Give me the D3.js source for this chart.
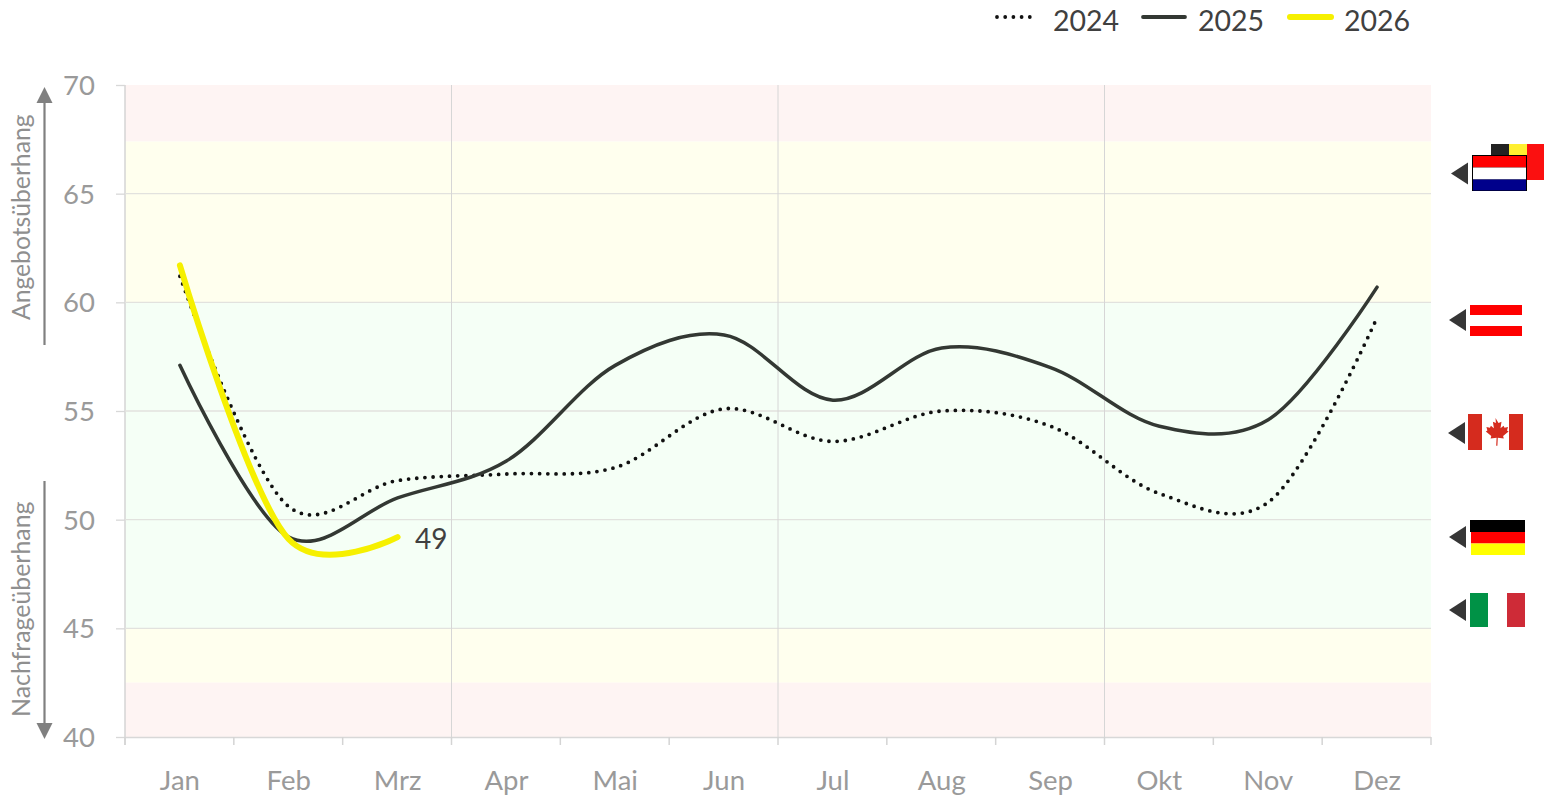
<!DOCTYPE html>
<html><head><meta charset="utf-8">
<script src="https://cdn.jsdelivr.net/npm/d3@7"></script>
<style>html,body{margin:0;padding:0;background:#fff}svg{display:block}text{font-family:Lato,"Open Sans",sans-serif}</style>
</head><body><svg id="c" width="1544" height="797"></svg>
<script>
const months=["Jan","Feb","Mrz","Apr","Mai","Jun","Jul","Aug","Sep","Okt","Nov","Dez"];
const s2024=[61.2,50.6,51.8,52.1,52.4,55.1,53.6,55.0,54.3,51.2,50.8,59.3];
const s2025=[57.1,49.2,51.0,52.7,57.1,58.5,55.5,57.9,57.0,54.3,54.6,60.7];
const s2026=[61.7,49.1,49.2];
const yTicks=[40,45,50,55,60,65,70];
const bands=[[67.4,70,"#fef4f3"],[60,67.4,"#ffffee"],[45,60,"#f5fff6"],[42.5,45,"#ffffee"],[40,42.5,"#fef4f3"]];

const svg=d3.select("#c");
const x=d3.scaleBand().domain(months).range([125,1431]);
const y=d3.scaleLinear().domain([40,70]).range([737,85]);
const cx=m=>x(m)+x.bandwidth()/2+0.5;

svg.append("g").selectAll("rect").data(bands).join("rect")
 .attr("x",125).attr("width",1306).attr("y",d=>y(d[1])).attr("height",d=>y(d[0])-y(d[1])).attr("fill",d=>d[2]);

const yAxis=d3.axisLeft(y).tickValues(yTicks).tickSize(9).tickPadding(5).tickFormat(d3.format("d"));
const gy=svg.append("g").attr("transform","translate(125,0)").call(yAxis);
gy.select(".domain").attr("stroke","#d4d4d4").attr("stroke-width",1.5).attr("d","M0,85V745");
gy.selectAll(".tick line").attr("stroke","#d8d8d8").attr("stroke-width",1.3);
gy.selectAll(".tick text").attr("fill","#9a9a9a").style("font-size","27.5px").attr("font-family","Lato").attr("dy","0.34em").attr("x",-30);
svg.append("g").selectAll("line").data(yTicks.filter(d=>d>40&&d<70)).join("line")
 .attr("x1",125).attr("x2",1431).attr("y1",d=>y(d)).attr("y2",d=>y(d)).attr("stroke","#e2e2de").attr("stroke-width",1.3);
svg.append("line").attr("x1",125).attr("x2",1431).attr("y1",737.5).attr("y2",737.5).attr("stroke","#d8d8d8").attr("stroke-width",1.5);

svg.append("g").selectAll("line").data(["Apr","Jul","Okt"]).join("line")
 .attr("x1",d=>x(d)).attr("x2",d=>x(d)).attr("y1",85).attr("y2",737).attr("stroke","#d6d6d6").attr("stroke-width",1);

const boundaries=months.map(m=>x(m)).concat([1431]);
svg.append("g").selectAll("line").data(boundaries).join("line")
 .attr("x1",d=>d).attr("x2",d=>d).attr("y1",737).attr("y2",745).attr("stroke","#d4d4d4").attr("stroke-width",1.5);
svg.append("g").selectAll("text").data(months).join("text")
 .attr("x",d=>cx(d)).attr("y",790).attr("text-anchor","middle").attr("fill","#9a9a9a").style("font-size","27.5px").text(d=>d);

const line=d3.line().x((d,i)=>cx(months[i])).y(d=>y(d)).curve(d3.curveCatmullRom.alpha(0.15));
const g=svg.append("g").attr("fill","none").attr("stroke-linecap","round").attr("stroke-linejoin","round");
g.append("path").attr("d",line(s2024)).attr("stroke","#111").attr("stroke-width",3.8).attr("stroke-dasharray","0 8.2");
g.append("path").attr("d",line(s2025)).attr("stroke","#333833").attr("stroke-width",3.5);
g.append("path").attr("d",line(s2026)).attr("stroke","#f6f000").attr("stroke-width",6);
svg.append("text").attr("x",415).attr("y",549).attr("fill","#404040").style("font-size","28px").text("49");

const leg=[{t:"2024",x1:997,x2:1034,tx:1053,c:"#111",w:3.8,dash:"0 8.2"},{t:"2025",x1:1143,x2:1185,tx:1198,c:"#333833",w:3.8,dash:null},{t:"2026",x1:1290,x2:1331,tx:1344,c:"#f6f000",w:6,dash:null}];
const lg=svg.append("g");
leg.forEach(l=>{
 lg.append("line").attr("x1",l.x1).attr("x2",l.x2).attr("y1",17).attr("y2",17).attr("stroke",l.c).attr("stroke-width",l.w).attr("stroke-linecap","round").attr("stroke-dasharray",l.dash);
 lg.append("text").attr("x",l.tx).attr("y",31).attr("fill","#404040").style("font-size","28.5px").text(l.t);
});

svg.append("text").attr("transform","translate(30,320) rotate(-90)").attr("fill","#8f8f8f").style("font-size","24.7px").text("Angebotsüberhang");
svg.append("text").attr("transform","translate(30,717) rotate(-90)").attr("fill","#8f8f8f").style("font-size","24.9px").text("Nachfrageüberhang");
svg.append("line").attr("x1",44.5).attr("x2",44.5).attr("y1",345).attr("y2",100).attr("stroke","#808080").attr("stroke-width",2.2);
svg.append("path").attr("d","M44.5,87L52.5,103H36.5Z").attr("fill","#808080");
svg.append("line").attr("x1",44.5).attr("x2",44.5).attr("y1",481).attr("y2",726).attr("stroke","#808080").attr("stroke-width",2.2);
svg.append("path").attr("d","M44.5,739L52.5,723H36.5Z").attr("fill","#808080");

const tri=(tipX,py)=>svg.append("path").attr("d",`M${tipX},${py}l17,-11v22Z`).attr("fill","#363636");
const rect=(g,a,b,w,h,f)=>g.append("rect").attr("x",a).attr("y",b).attr("width",w).attr("height",h).attr("fill",f);
{const f=svg.append("g");
 rect(f,1491,144,18,36,"#222");rect(f,1509,144,20,36,"#ffef30");rect(f,1527,144,18,36,"#fb1010");
 rect(f,1472,155,55,36,"#000");rect(f,1473,156,53,11.5,"#ff0000");rect(f,1473,167.5,53,12,"#ffffff");rect(f,1473,179.5,53,11,"#00008b");
 tri(1451,173.5);}
{const f=svg.append("g");rect(f,1470,305,52,10,"#ff0000");rect(f,1470,326,52,10,"#ff0000");tri(1449,320);}
{const f=svg.append("g");rect(f,1468,414,14,36,"#d52b1e");rect(f,1509,414,14,36,"#d52b1e");
 f.append("path").attr("fill","#d52b1e").attr("d","M1495.5,418l3,5 3,-1.2 -1,6.5 3,-2.5 1,2 3.5,-.7 -1,3.5 1.6,1 -5.5,4.5 .7,2.4 -6,-.8 -.4,8h-1.2l.4,-8 -6,.8 .7,-2.4 -5.5,-4.5 1.6,-1 -1,-3.5 3.5,.7 1,-2 3,2.5 -1,-6.5 3,1.2Z");
 tri(1448,433);}
{const f=svg.append("g");rect(f,1470,520,55,12,"#000");rect(f,1471,532,54,11.5,"#ff0000");rect(f,1471,543.5,54,11.5,"#ffff00");tri(1449,537);}
{const f=svg.append("g");rect(f,1470,593,18,34,"#009246");rect(f,1507,593,18,34,"#ce2b37");tri(1449,610);}
</script></body></html>
